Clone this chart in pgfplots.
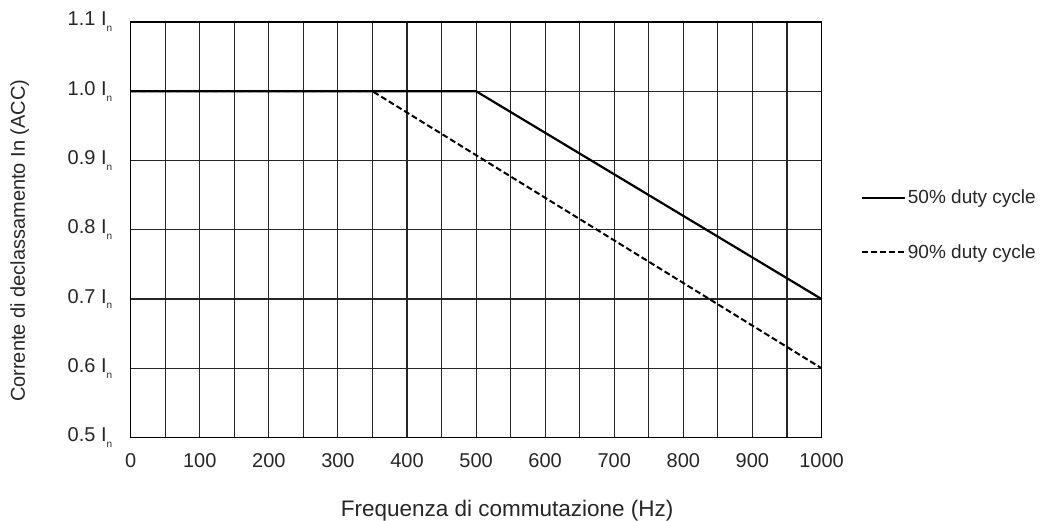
\documentclass[border=0pt]{standalone}
\usepackage{fontspec}
\setmainfont{Liberation Sans}
\usepackage{pgfplots}
\pgfplotsset{compat=1.18}
\newcommand{\In}{\ I\raisebox{-0.55ex}{\fontsize{10}{10}\selectfont n}}
\begin{document}
\begin{tikzpicture}
\path[use as bounding box] (-130.7pt,-83.5pt) rectangle (915.3pt,437.5pt);
\begin{axis}[
  at={(0,0)}, anchor=south west,
  scale only axis,
  width=690.8pt, height=415.5pt,
  xmin=0, xmax=1000, ymin=0.5, ymax=1.1,
  xtick={0,100,...,1000},
  minor xtick={50,150,...,950},
  ytick={0.5,0.6,0.7,0.8,0.9,1.0,1.1},
  yticklabels={0.5\In,0.6\In,0.7\In,0.8\In,0.9\In,1.0\In,1.1\In},
  /pgf/number format/assume math mode=true,
  /pgf/number format/set thousands separator={},
  grid=both,
  major grid style={line width=1.1pt, black!85},
  minor grid style={line width=1.1pt, black!85},
  axis line style={line width=1.5pt, black},
  tick style={draw=none},
  major tick length=0pt, minor tick length=0pt,
  tick label style={font=\fontsize{20}{23}\selectfont, black!85},
  xticklabel style={yshift=-13pt},
  yticklabel style={xshift=-15pt},
  xlabel={Frequenza di commutazione (Hz)},
  ylabel={Corrente di declassamento In (ACC)},
  xlabel style={font=\fontsize{22.5}{26}\selectfont, black!85, at={(axis description cs:0.5,0)}, anchor=base, xshift=31pt, yshift=-79.5pt},
  ylabel style={font=\fontsize{20}{24}\selectfont, black!85, at={(axis description cs:0,0.5)}, anchor=base, xshift=-11pt, yshift=105.7pt},
  legend style={draw=none, fill=none, at={(axis description cs:1,0.5)}, anchor=west, xshift=39pt, yshift=5pt,
    font=\fontsize{19}{22}\selectfont, row sep=35pt, inner sep=0pt, cells={anchor=west}, text=black!85},
  legend image code/.code={\draw[#1] (0pt,0pt) -- (43pt,0pt);},
  clip=false,
]
\addplot[line width=2.2pt, black] coordinates {(0,1.0) (500,1.0) (1000,0.7)};
\addlegendentry{50\% duty cycle}
\addplot[line width=2pt, black, dash pattern=on 6pt off 3pt] coordinates {(0,1.0) (350,1.0) (1000,0.6)};
\addlegendentry{90\% duty cycle}
\end{axis}
\end{tikzpicture}
\end{document}
